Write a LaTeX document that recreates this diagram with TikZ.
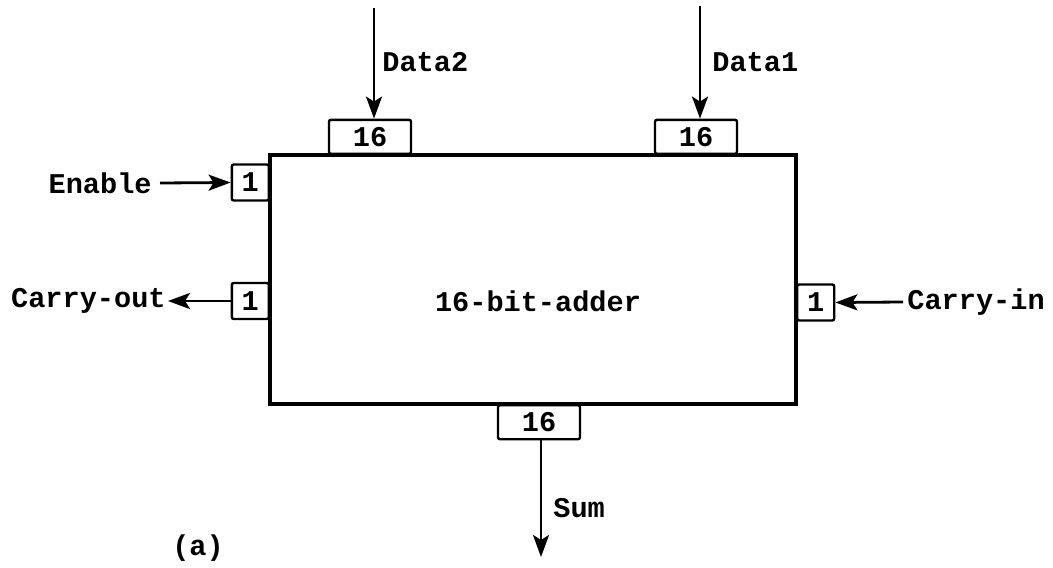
\documentclass[tikz,border=0pt]{standalone}
\usepackage{fontspec}
\setmonofont{Liberation Mono}
\usetikzlibrary{arrows.meta,positioning}
\tikzset{
  adderbox/.style={draw=black, line width=1.7pt, minimum width=263pt, minimum height=124.5pt, inner sep=0pt},
  portbox/.style={draw=black, line width=1.2pt, rounded corners=1pt, inner sep=0pt},
  widebox/.style={portbox, minimum width=41pt, minimum height=17pt},
  bitbox/.style={portbox, minimum width=18.5pt, minimum height=18pt},
  sigarrow/.style={line width=1.4pt, -{Stealth[length=11pt,width=8pt,inset=2.5pt]}},
  siglabel/.style={inner sep=0pt},
}
\begin{document}
\begin{tikzpicture}[x=0.5pt, y=-0.5pt, font=\ttfamily\bfseries\fontsize{14.3}{16}\selectfont]
\useasboundingbox (0,0) rectangle (1053,567);
% main block
\node[adderbox] (adder) at (533,279.5) {};
\node (addertext) at (538,301) {16-bit-adder};
% ports
\node[widebox, anchor=south] (d2port) at (370,155) {16};
\node[widebox, anchor=south] (d1port) at (696,155) {16};
\node[bitbox, anchor=east] (enport) at (270,182.5) {1};
\node[bitbox, anchor=east] (coport) at (270,301) {1};
\node[bitbox, anchor=west] (ciport) at (796,302.5) {1};
\node[widebox, anchor=north] (sumport) at (539,404) {16};
% signal ends and labels
\coordinate (d2src) at (374,8);
\coordinate (d1src) at (700,6);
\coordinate (sumdst) at (541,557);
\node[siglabel, anchor=west] (d2label) at (382,62) {Data2};
\node[siglabel, anchor=west] (d1label) at (712,62) {Data1};
\node[siglabel, anchor=east] (enlabel) at (152,183) {Enable};
\node[siglabel, anchor=east] (colabel) at (166,301) {Carry-out};
\node[siglabel, anchor=west] (cilabel) at (907,302) {Carry-in};
\node[siglabel, anchor=west] (sumlabel) at (553,508) {Sum};
\node (caption) at (198,548) {(a)};
% connectors
\draw[sigarrow] (d2src) -- (d2src |- d2port.north);
\draw[sigarrow] (d1src) -- (d1src |- d1port.north);
\draw[sigarrow] ([xshift=4pt]enlabel.east) -- (enport.west);
\draw[sigarrow] (coport.west) -- ([xshift=1pt]colabel.east);
\draw[sigarrow] ([xshift=-2pt]cilabel.west) -- (ciport.east);
\draw[sigarrow] (sumdst |- sumport.south) -- (sumdst);
\end{tikzpicture}
\end{document}
